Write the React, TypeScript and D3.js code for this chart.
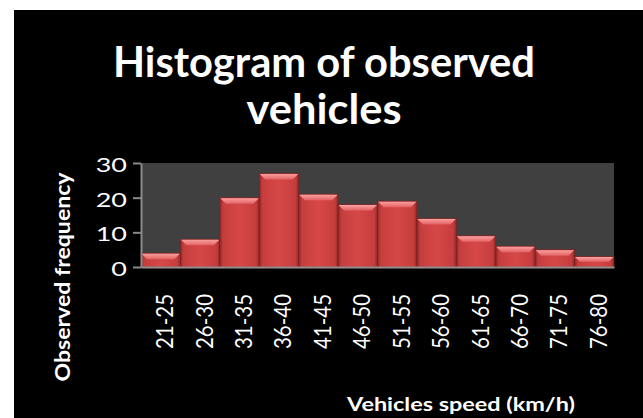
import React, { Component } from "react";
import * as d3 from "d3";

const speedBins = ["21-25", "26-30", "31-35", "36-40", "41-45", "46-50", "51-55", "56-60", "61-65", "66-70", "71-75", "76-80"];
const frequencies = [4, 8, 20, 27, 21, 18, 19, 14, 9, 6, 5, 3];
const yTicks = [0, 10, 20, 30];
const titleLines = ["Histogram of observed", "vehicles"];
const yTitle = "Observed frequency";
const xTitle = "Vehicles speed (km/h)";

class App extends Component {
  viz = React.createRef<SVGSVGElement>();

  componentDidMount() {
    this.drawChart();
  }

  drawChart = () => {
    const svg = d3.select(this.viz.current);
    svg.selectAll("*").remove();

    const width = 643;
    const height = 418;
    const plot = { left: 141, right: 614, top: 163, bottom: 267 };
    const font = "Lato, 'Open Sans', sans-serif";

    const defs = svg.append("defs");
    const side = defs.append("linearGradient")
      .attr("id", "barSide")
      .attr("x1", 0).attr("x2", 1).attr("y1", 0).attr("y2", 0);
    [[0, "#8e2828"], [0.08, "#c63d3d"], [0.5, "#d64848"], [0.92, "#c63d3d"], [1, "#8e2828"]]
      .forEach(s => side.append("stop").attr("offset", s[0]).attr("stop-color", s[1]));
    const bevel = defs.append("linearGradient")
      .attr("id", "barTop")
      .attr("x1", 0).attr("x2", 0).attr("y1", 0).attr("y2", 1);
    [[0, "#f9a0a0"], [1, "#e46262"]]
      .forEach(s => bevel.append("stop").attr("offset", s[0]).attr("stop-color", s[1]));

    // black card
    svg.append("rect")
      .attr("x", 14).attr("y", 10)
      .attr("width", width - 14).attr("height", height - 10)
      .attr("fill", "#000");

    // title
    const titleLen = [422, 155];
    svg.selectAll(".title")
      .data(titleLines)
      .enter().append("text")
      .attr("class", "title")
      .attr("x", 324)
      .attr("y", (d, i) => 77 + i * 47)
      .attr("text-anchor", "middle")
      .attr("textLength", (d, i) => titleLen[i])
      .attr("lengthAdjust", "spacingAndGlyphs")
      .style("font-family", font)
      .style("font-weight", 700)
      .style("font-size", "42px")
      .style("fill", "#fff")
      .text(d => d);

    const x = d3.scaleBand()
      .domain(speedBins)
      .range([plot.left, plot.right])
      .padding(0);
    const y = d3.scaleLinear()
      .domain([0, 30])
      .range([plot.bottom, plot.top]);

    svg.append("rect")
      .attr("x", plot.left).attr("y", plot.top)
      .attr("width", plot.right - plot.left)
      .attr("height", plot.bottom - plot.top)
      .attr("fill", "#404040");

    const rows = speedBins.map((bin, i) => ({ bin, value: frequencies[i] }));
    const bars = svg.selectAll(".bar")
      .data(rows)
      .enter().append("g")
      .attr("class", "bar");

    bars.append("rect")
      .attr("x", d => x(d.bin))
      .attr("y", d => y(d.value))
      .attr("width", x.bandwidth())
      .attr("height", d => plot.bottom - y(d.value))
      .attr("fill", "url(#barSide)")
      .attr("stroke", "#7a2020")
      .attr("stroke-width", 0.6);

    bars.append("polygon")
      .attr("points", d => {
        const x0 = x(d.bin);
        const x1 = x0 + x.bandwidth();
        const y0 = y(d.value);
        const b = Math.min(6, (plot.bottom - y0) / 2);
        return [[x0 + 0.5, y0 + 0.5], [x1 - 0.5, y0 + 0.5], [x1 - b, y0 + b], [x0 + b, y0 + b]].join(" ");
      })
      .attr("fill", "url(#barTop)");

    // y axis
    const yAxis = svg.append("g")
      .attr("transform", "translate(" + plot.left + ",0)")
      .call(d3.axisLeft(y).tickValues(yTicks).tickSize(8).tickSizeOuter(0));
    yAxis.selectAll("path, line")
      .attr("stroke", "#8a8a8a")
      .attr("stroke-width", 2);
    yAxis.selectAll("text")
      .attr("x", -14 / 1.35)
      .attr("dy", "8.5px")
      .attr("transform", "scale(1.35,1)")
      .attr("text-anchor", "end")
      .style("font-family", font)
      .style("font-size", "20px")
      .style("fill", "#fff");

    // x axis
    const xAxis = svg.append("g")
      .attr("transform", "translate(0," + plot.bottom + ")")
      .call(d3.axisBottom(x).tickSize(0).tickSizeOuter(0));
    xAxis.select(".domain")
      .attr("stroke", "#9a9090")
      .attr("stroke-width", 2);
    xAxis.selectAll("text")
      .attr("x", 0)
      .attr("y", 0)
      .attr("dy", null)
      .attr("transform", "translate(4,27) scale(1.13,1) rotate(-90)")
      .attr("text-anchor", "end")
      .attr("dominant-baseline", "central")
      .attr("textLength", 55)
      .attr("lengthAdjust", "spacingAndGlyphs")
      .style("font-family", font)
      .style("font-size", "20px")
      .style("fill", "#fff");

    svg.append("text")
      .attr("transform", "translate(70,277) rotate(-90)")
      .attr("text-anchor", "middle")
      .attr("textLength", 209)
      .attr("lengthAdjust", "spacingAndGlyphs")
      .style("font-family", font)
      .style("font-weight", 700)
      .style("font-size", "21px")
      .style("fill", "#fff")
      .text(yTitle);

    svg.append("text")
      .attr("x", 461)
      .attr("y", 411)
      .attr("text-anchor", "middle")
      .attr("textLength", 228)
      .attr("lengthAdjust", "spacingAndGlyphs")
      .style("font-family", font)
      .style("font-weight", 700)
      .style("font-size", "19.5px")
      .style("fill", "#fff")
      .text(xTitle);
  }

  render() {
    return (
      <svg
        ref={this.viz}
        width={643}
        height={418}
        style={{ position: "absolute", left: 0, top: 0, background: "#fff" }}
      />
    );
  }
}

export default App;
